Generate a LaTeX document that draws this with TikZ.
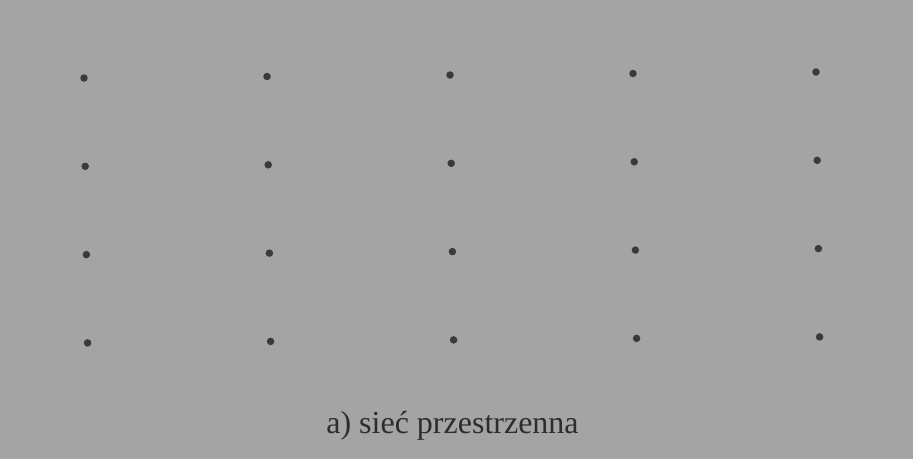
\documentclass[tikz,border=0pt]{standalone}
\usepackage{fontspec}
\setmainfont{Liberation Serif}
\usetikzlibrary{positioning}
\definecolor{scangray}{RGB}{164,164,164}
\definecolor{dotgray}{RGB}{58,58,58}
\definecolor{inkgray}{RGB}{45,45,45}

\begin{document}
\begin{tikzpicture}[
        x=1pt, y=-1pt,
        point/.style={circle, fill=dotgray, minimum size=7.5pt, inner sep=0pt},
        caption/.style={text=inkgray, font=\fontsize{32}{38}\selectfont, anchor=base},
    ]

        % Background of the scanned page
        \fill[scangray] (0,0) rectangle (913,459);
        \useasboundingbox (0,0) rectangle (913,459);

        % Draw the lattice points, row by row
        \foreach \r in {0,...,3}
            \foreach \c in {0,...,4}
                \node[point] (P-\r-\c) at ({84+183*\c+1.2*\r},{78+88.3*\r-1.5*\c}) {};

        % Caption under the lattice
        \node[caption] (cap) at (452.5,433) {a) sieć przestrzenna};
\end{tikzpicture}
\end{document}
